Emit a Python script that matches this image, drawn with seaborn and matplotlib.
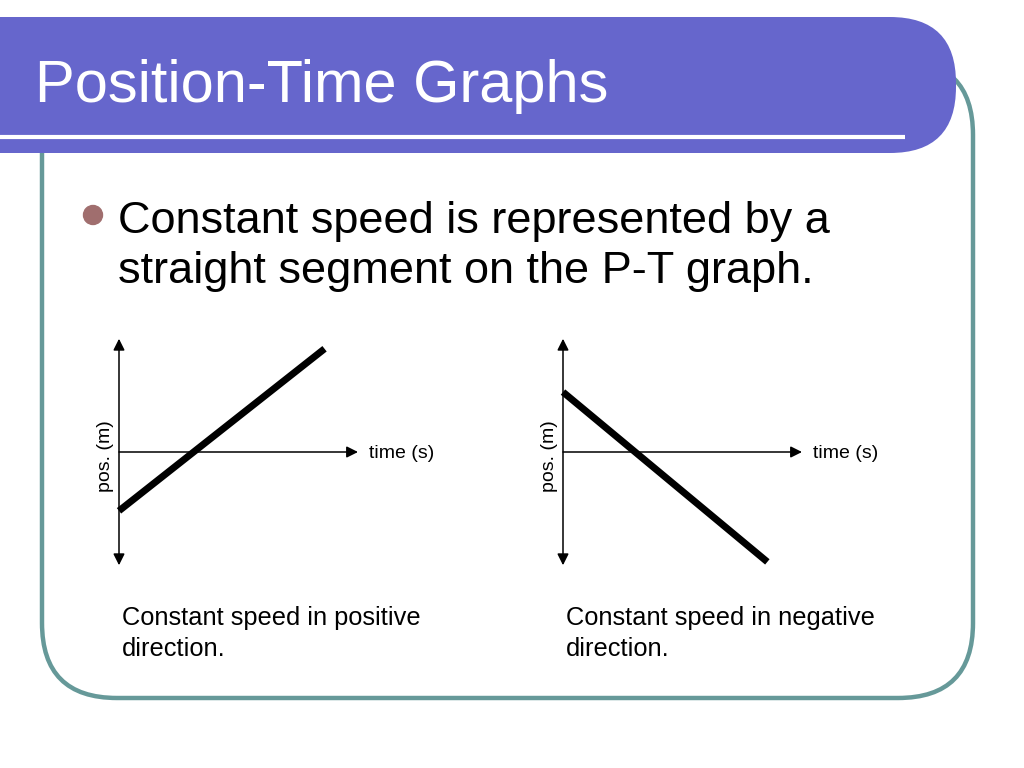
import numpy as np
import pandas as pd
import seaborn as sns
import matplotlib.pyplot as plt
from matplotlib.patches import FancyBboxPatch, Circle

# values (time axis 0..10, position axis -10..10)
time_pos = [0.0, 8.6]
pos_pos = [-5.3, 9.3]
time_neg = [0.0, 8.55]
pos_neg = [5.4, -9.9]

title = "Position-Time Graphs"
bullet_lines = ["Constant speed is represented by a",
                "straight segment on the P-T graph."]
caption_pos = ["Constant speed in positive", "direction."]
caption_neg = ["Constant speed in negative", "direction."]
xlabel = "time (s)"
ylabel = "pos. (m)"

sns.set_style("white")
plt.rcParams['font.family'] = ['Liberation Sans', 'DejaVu Sans']
plt.rcParams['text.color'] = 'black'

W, H = 1024, 768
fig = plt.figure(figsize=(W / 100, H / 100), dpi=100)

# background axes in pixel coordinates for the slide decoration
bg = fig.add_axes([0, 0, 1, 1])
bg.set_xlim(0, W)
bg.set_ylim(H, 0)
bg.axis("off")

teal = "#669999"
purple = "#6666CC"

border = FancyBboxPatch((42, 60), 973 - 42, 698 - 60,
                        boxstyle="round,pad=0,rounding_size=75",
                        facecolor="white", edgecolor=teal, lw=3.2, zorder=1)
bg.add_patch(border)

banner = FancyBboxPatch((-120, 17), 956 + 120, 153 - 17,
                        boxstyle="round,pad=0,rounding_size=66",
                        facecolor=purple, edgecolor="none", zorder=2)
bg.add_patch(banner)
bg.plot([0, 905], [136.5, 136.5], color="white", lw=3, solid_capstyle="butt", zorder=3)

bg.text(35, 102, title, color="white", fontsize=42.8, va="baseline", ha="left", zorder=4)

bg.add_patch(Circle((93, 215), 9.5, color="#A06E6E", zorder=4))
for i, line in enumerate(bullet_lines):
    bg.text(118, 233 + 50 * i, line, color="black", fontsize=32.5,
            va="baseline", ha="left", zorder=4)

for x0, cap in [(122, caption_pos), (566, caption_neg)]:
    for i, line in enumerate(cap):
        bg.text(x0, 625 + 30.5 * i, line, color="black", fontsize=18.3,
                va="baseline", ha="left", zorder=4)


def pt_graph(left_px, t, p):
    ax = fig.add_axes([left_px / W, 1 - 563 / H, 239 / W, 222 / H])
    ax.patch.set_alpha(0)
    df = pd.DataFrame({"time": t, "pos": p})
    sns.lineplot(data=df, x="time", y="pos", ax=ax, color="black", lw=5,
                 solid_capstyle="butt", clip_on=False)
    ax.set_xlim(0, 10)
    ax.set_ylim(-10, 10)
    for s in ax.spines.values():
        s.set_visible(False)
    ax.set_xticks([])
    ax.set_yticks([])
    ax.set_xlabel("")
    ax.set_ylabel("")
    ax.annotate("", xy=(10, 0), xytext=(0, 0), annotation_clip=False,
                arrowprops=dict(arrowstyle="-|>", color="black", lw=1.1,
                                mutation_scale=17, shrinkA=0, shrinkB=0))
    ax.annotate("", xy=(0, 10.2), xytext=(0, -10.2), annotation_clip=False,
                arrowprops=dict(arrowstyle="<|-|>", color="black", lw=1.1,
                                mutation_scale=17, shrinkA=0, shrinkB=0))
    return ax


pt_graph(119, time_pos, pos_pos)
pt_graph(563, time_neg, pos_neg)

for x0 in (369, 813):
    bg.text(x0, 453, xlabel, color="black", fontsize=14, va="center", ha="left", zorder=4)
for x0 in (106, 550):
    bg.text(x0, 456, ylabel, color="black", fontsize=14, va="center", ha="center",
            rotation=90, zorder=4)

fig.savefig("out.png", dpi=100)
